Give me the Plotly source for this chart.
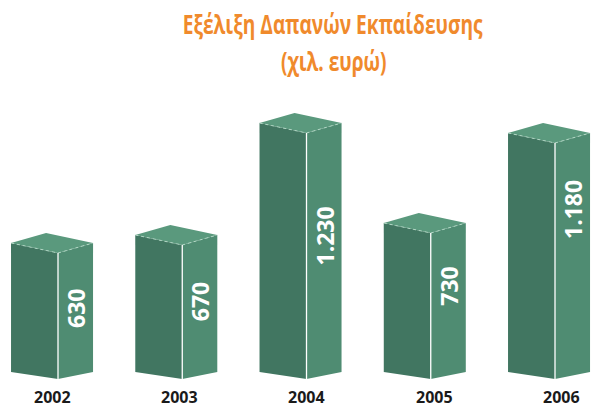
import plotly.graph_objects as go

# ---- data ----
years = ["2002", "2003", "2004", "2005", "2006"]
values = [630, 670, 1230, 730, 1180]
value_labels = ["630", "670", "1.230", "730", "1.180"]
title_line1 = "Εξέλιξη Δαπανών Εκπαίδευσης"
title_line2 = "(χιλ. ευρώ)"

# ---- style ----
FRONT = "#417661"
SIDE = "#4f8c72"
TOP = "#5a997d"
ORANGE = "#f08a2c"
FW = 0.378      # front face width (x units)
SW = 0.282      # side face width (x units)
TOP_RISE = 50   # perspective rise of top corners (value units)
BOT_RISE = 35   # perspective rise of bottom corners (value units)
label_offsets = [34, 35, 72, 32, 35]  # px below the top edge
TITLE_WIDTH_PX = 300  # condensed title width

fig = go.Figure()

for i, (yr, v) in enumerate(zip(years, values)):
    m = i
    fig.add_trace(go.Scatter(
        x=[m - FW, m, m, m - FW, m - FW],
        y=[v + TOP_RISE, v, 0, BOT_RISE, v + TOP_RISE],
        fill="toself", fillcolor=FRONT, mode="lines",
        line=dict(width=0, color=FRONT), hoverinfo="skip", showlegend=False))
    fig.add_trace(go.Scatter(
        x=[m, m + SW, m + SW, m, m],
        y=[v, v + TOP_RISE, BOT_RISE, 0, v],
        fill="toself", fillcolor=SIDE, mode="lines",
        line=dict(width=0, color=SIDE), hoverinfo="skip", showlegend=False))
    fig.add_trace(go.Scatter(
        x=[m - FW, m, m + SW, m - FW + SW, m - FW],
        y=[v + TOP_RISE, v, v + TOP_RISE, v + 2 * TOP_RISE, v + TOP_RISE],
        fill="toself", fillcolor=TOP, mode="lines",
        line=dict(width=0, color=TOP), hoverinfo="skip", showlegend=False))
    fig.add_trace(go.Scatter(
        x=[m - FW, m, m + SW], y=[v + TOP_RISE, v, v + TOP_RISE],
        mode="lines", line=dict(width=1, color="rgba(190,225,208,0.8)", dash="dot"),
        hoverinfo="skip", showlegend=False))
    fig.add_trace(go.Scatter(
        x=[m, m], y=[v, 0], mode="lines",
        line=dict(width=1.3, color="white"), hoverinfo="skip", showlegend=False))
    fig.add_annotation(
        x=m + SW / 2, y=v, xref="x", yref="y", text="<b>%s</b>" % value_labels[i],
        textangle=-90, showarrow=False, xanchor="center", yanchor="top",
        yshift=-label_offsets[i],
        font=dict(family="Open Sans", size=23, color="white"))
    fig.add_annotation(
        x=i, y=-88, xref="x2", yref="y", text="<b>%s</b>" % yr,
        showarrow=False, xanchor="center", yanchor="middle", borderpad=0,
        font=dict(family="Open Sans", size=16, color="#1a1a1a"))

H = 408.0
title_font = dict(family="Open Sans", size=26, color=ORANGE)
fig.add_annotation(x=0.561, y=1 - 24 / H, xref="paper", yref="paper", yanchor="middle",
                   text="<b>%s</b>" % title_line1, showarrow=False, font=title_font)
fig.add_annotation(x=0.563, y=1 - 61 / H, xref="paper", yref="paper", yanchor="middle",
                   text="<b>%s</b>" % title_line2, showarrow=False, font=title_font)

fig.update_layout(
    width=592, height=408,
    margin=dict(l=0, r=0, t=0, b=0),
    paper_bgcolor="white", plot_bgcolor="white",
    xaxis=dict(range=[-0.4668, 4.2978], visible=False, fixedrange=True),
    xaxis2=dict(range=[-0.417, 4.244], visible=False, overlaying="x", fixedrange=True),
    yaxis=dict(range=[-145, 1895], visible=False, fixedrange=True),
    showlegend=False,
)

post = """
document.body.style.margin='0';
document.body.style.overflow='hidden';
(function(){
  var texts = document.querySelectorAll('.annotation-text');
  var t1 = null, t2 = null;
  texts.forEach(function(t){
    var s = t.textContent;
    if (s.indexOf('%s') >= 0) t1 = t;
    if (s.indexOf('%s') >= 0) t2 = t;
  });
  if (!t1) return;
  var sc = %d / t1.getBBox().width;
  [t1, t2].forEach(function(t){
    if (!t) return;
    t.style.transformBox = 'fill-box';
    t.style.transformOrigin = 'center';
    t.style.transform = 'scaleX(' + sc + ')';
  });
})();
""" % (title_line1, title_line2, TITLE_WIDTH_PX)

fig.write_html("out.html", config={"displayModeBar": False}, post_script=post)
